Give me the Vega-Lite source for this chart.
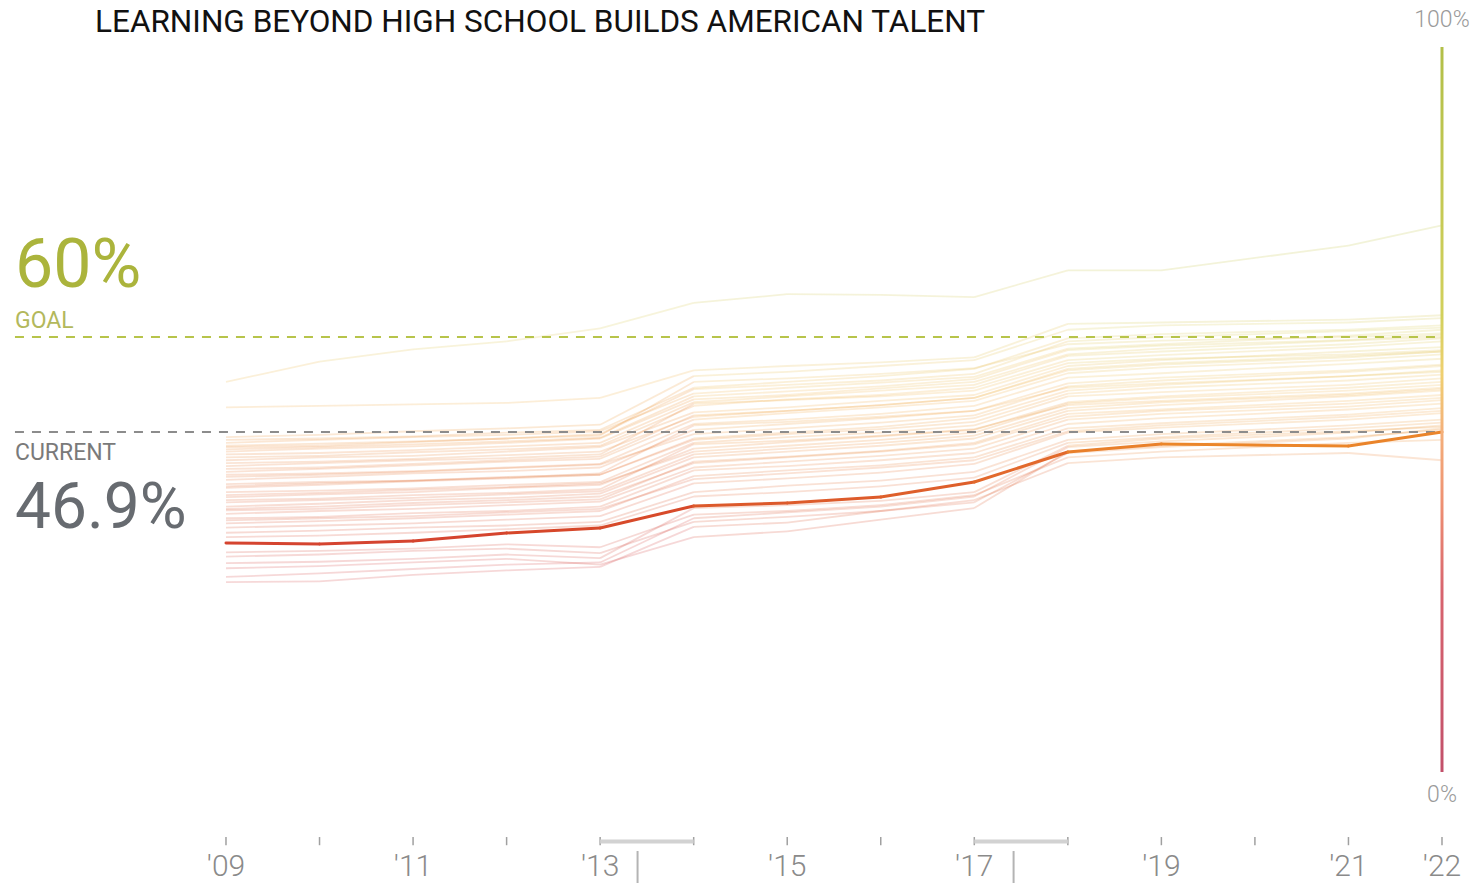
{
  "$schema": "https://vega.github.io/schema/vega-lite/v6.json",
  "width": 1481,
  "height": 883,
  "autosize": "none",
  "padding": 0,
  "background": "white",
  "config": {"view": {"stroke": null}},
  "datasets": {
    "states": [
      {"s":"L1","t":2009,"v":53.8},{"s":"L1","t":2010,"v":56.6},{"s":"L1","t":2011,"v":58.3},{"s":"L1","t":2012,"v":59.4},{"s":"L1","t":2013,"v":61.2},{"s":"L1","t":2014,"v":64.7},{"s":"L1","t":2015,"v":65.9},{"s":"L1","t":2016,"v":65.8},{"s":"L1","t":2017,"v":65.5},{"s":"L1","t":2018,"v":69.2},{"s":"L1","t":2019,"v":69.2},{"s":"L1","t":2021,"v":72.6},{"s":"L1","t":2022,"v":75.4},
      {"s":"L2","t":2009,"v":50.3},{"s":"L2","t":2010,"v":50.5},{"s":"L2","t":2011,"v":50.7},{"s":"L2","t":2012,"v":50.9},{"s":"L2","t":2013,"v":51.6},{"s":"L2","t":2014,"v":55.4},{"s":"L2","t":2015,"v":56.0},{"s":"L2","t":2016,"v":56.5},{"s":"L2","t":2017,"v":57.2},{"s":"L2","t":2018,"v":61.8},{"s":"L2","t":2019,"v":62.0},{"s":"L2","t":2021,"v":62.4},{"s":"L2","t":2022,"v":63.0},
      {"s":"L3","t":2009,"v":46.2},{"s":"L3","t":2010,"v":46.5},{"s":"L3","t":2011,"v":47.0},{"s":"L3","t":2012,"v":47.4},{"s":"L3","t":2013,"v":47.9},{"s":"L3","t":2014,"v":54.6},{"s":"L3","t":2015,"v":55.2},{"s":"L3","t":2016,"v":56.0},{"s":"L3","t":2017,"v":56.8},{"s":"L3","t":2018,"v":61.0},{"s":"L3","t":2019,"v":61.6},{"s":"L3","t":2021,"v":62.0},{"s":"L3","t":2022,"v":62.6},
      {"s":"L4","t":2009,"v":45.8},{"s":"L4","t":2010,"v":46.0},{"s":"L4","t":2011,"v":46.3},{"s":"L4","t":2012,"v":46.8},{"s":"L4","t":2013,"v":47.2},{"s":"L4","t":2014,"v":53.0},{"s":"L4","t":2015,"v":53.8},{"s":"L4","t":2016,"v":54.6},{"s":"L4","t":2017,"v":55.6},{"s":"L4","t":2018,"v":59.8},{"s":"L4","t":2019,"v":60.4},{"s":"L4","t":2021,"v":61.0},{"s":"L4","t":2022,"v":61.6},
      {"s":"L5","t":2009,"v":45.4},{"s":"L5","t":2010,"v":45.8},{"s":"L5","t":2011,"v":46.2},{"s":"L5","t":2012,"v":46.5},{"s":"L5","t":2013,"v":47.0},{"s":"L5","t":2014,"v":52.2},{"s":"L5","t":2015,"v":53.0},{"s":"L5","t":2016,"v":53.7},{"s":"L5","t":2017,"v":54.5},{"s":"L5","t":2018,"v":58.4},{"s":"L5","t":2019,"v":59.0},{"s":"L5","t":2021,"v":60.2},{"s":"L5","t":2022,"v":61.0},
      {"s":"L6","t":2009,"v":44.8},{"s":"L6","t":2010,"v":45.0},{"s":"L6","t":2011,"v":45.5},{"s":"L6","t":2012,"v":46.0},{"s":"L6","t":2013,"v":46.4},{"s":"L6","t":2014,"v":53.8},{"s":"L6","t":2015,"v":54.3},{"s":"L6","t":2016,"v":54.9},{"s":"L6","t":2017,"v":55.7},{"s":"L6","t":2018,"v":59.0},{"s":"L6","t":2019,"v":59.5},{"s":"L6","t":2021,"v":60.0},{"s":"L6","t":2022,"v":60.5},
      {"s":"L7","t":2009,"v":44.2},{"s":"L7","t":2010,"v":44.6},{"s":"L7","t":2011,"v":44.9},{"s":"L7","t":2012,"v":45.4},{"s":"L7","t":2013,"v":46.0},{"s":"L7","t":2014,"v":51.4},{"s":"L7","t":2015,"v":52.0},{"s":"L7","t":2016,"v":52.9},{"s":"L7","t":2017,"v":53.8},{"s":"L7","t":2018,"v":57.6},{"s":"L7","t":2019,"v":58.4},{"s":"L7","t":2021,"v":59.5},{"s":"L7","t":2022,"v":60.0},
      {"s":"L8","t":2009,"v":43.4},{"s":"L8","t":2010,"v":43.6},{"s":"L8","t":2011,"v":44.1},{"s":"L8","t":2012,"v":44.5},{"s":"L8","t":2013,"v":45.0},{"s":"L8","t":2014,"v":50.5},{"s":"L8","t":2015,"v":51.4},{"s":"L8","t":2016,"v":52.0},{"s":"L8","t":2017,"v":53.0},{"s":"L8","t":2018,"v":56.8},{"s":"L8","t":2019,"v":57.5},{"s":"L8","t":2021,"v":58.6},{"s":"L8","t":2022,"v":59.4},
      {"s":"L9","t":2009,"v":43.0},{"s":"L9","t":2010,"v":43.4},{"s":"L9","t":2011,"v":43.6},{"s":"L9","t":2012,"v":44.2},{"s":"L9","t":2013,"v":44.8},{"s":"L9","t":2014,"v":49.6},{"s":"L9","t":2015,"v":50.3},{"s":"L9","t":2016,"v":51.2},{"s":"L9","t":2017,"v":52.0},{"s":"L9","t":2018,"v":56.0},{"s":"L9","t":2019,"v":56.8},{"s":"L9","t":2021,"v":58.0},{"s":"L9","t":2022,"v":58.6},
      {"s":"L10","t":2009,"v":42.2},{"s":"L10","t":2010,"v":42.6},{"s":"L10","t":2011,"v":43.0},{"s":"L10","t":2012,"v":43.3},{"s":"L10","t":2013,"v":43.8},{"s":"L10","t":2014,"v":50.8},{"s":"L10","t":2015,"v":51.3},{"s":"L10","t":2016,"v":51.8},{"s":"L10","t":2017,"v":52.6},{"s":"L10","t":2018,"v":56.4},{"s":"L10","t":2019,"v":57.0},{"s":"L10","t":2021,"v":57.6},{"s":"L10","t":2022,"v":58.2},
      {"s":"L11","t":2009,"v":41.4},{"s":"L11","t":2010,"v":41.8},{"s":"L11","t":2011,"v":42.3},{"s":"L11","t":2012,"v":42.8},{"s":"L11","t":2013,"v":43.2},{"s":"L11","t":2014,"v":48.6},{"s":"L11","t":2015,"v":49.5},{"s":"L11","t":2016,"v":50.3},{"s":"L11","t":2017,"v":51.2},{"s":"L11","t":2018,"v":55.0},{"s":"L11","t":2019,"v":55.8},{"s":"L11","t":2021,"v":56.8},{"s":"L11","t":2022,"v":57.6},
      {"s":"L12","t":2009,"v":41.0},{"s":"L12","t":2010,"v":41.2},{"s":"L12","t":2011,"v":41.5},{"s":"L12","t":2012,"v":42.0},{"s":"L12","t":2013,"v":42.5},{"s":"L12","t":2014,"v":48.0},{"s":"L12","t":2015,"v":48.6},{"s":"L12","t":2016,"v":49.4},{"s":"L12","t":2017,"v":50.5},{"s":"L12","t":2018,"v":54.4},{"s":"L12","t":2019,"v":55.0},{"s":"L12","t":2021,"v":56.3},{"s":"L12","t":2022,"v":57.0},
      {"s":"L13","t":2009,"v":40.3},{"s":"L13","t":2010,"v":40.7},{"s":"L13","t":2011,"v":41.2},{"s":"L13","t":2012,"v":41.5},{"s":"L13","t":2013,"v":42.0},{"s":"L13","t":2014,"v":47.2},{"s":"L13","t":2015,"v":48.0},{"s":"L13","t":2016,"v":48.8},{"s":"L13","t":2017,"v":49.8},{"s":"L13","t":2018,"v":53.6},{"s":"L13","t":2019,"v":54.4},{"s":"L13","t":2021,"v":55.4},{"s":"L13","t":2022,"v":56.2},
      {"s":"L14","t":2009,"v":39.7},{"s":"L14","t":2010,"v":40.0},{"s":"L14","t":2011,"v":40.2},{"s":"L14","t":2012,"v":40.6},{"s":"L14","t":2013,"v":41.2},{"s":"L14","t":2014,"v":47.8},{"s":"L14","t":2015,"v":48.3},{"s":"L14","t":2016,"v":49.0},{"s":"L14","t":2017,"v":49.8},{"s":"L14","t":2018,"v":53.0},{"s":"L14","t":2019,"v":53.6},{"s":"L14","t":2021,"v":54.6},{"s":"L14","t":2022,"v":55.4},
      {"s":"L15","t":2009,"v":39.2},{"s":"L15","t":2010,"v":39.6},{"s":"L15","t":2011,"v":40.1},{"s":"L15","t":2012,"v":40.5},{"s":"L15","t":2013,"v":41.0},{"s":"L15","t":2014,"v":46.0},{"s":"L15","t":2015,"v":46.8},{"s":"L15","t":2016,"v":47.6},{"s":"L15","t":2017,"v":48.8},{"s":"L15","t":2018,"v":52.6},{"s":"L15","t":2019,"v":53.4},{"s":"L15","t":2021,"v":54.6},{"s":"L15","t":2022,"v":55.2},
      {"s":"L16","t":2009,"v":38.6},{"s":"L16","t":2010,"v":38.8},{"s":"L16","t":2011,"v":39.1},{"s":"L16","t":2012,"v":39.6},{"s":"L16","t":2013,"v":40.0},{"s":"L16","t":2014,"v":45.4},{"s":"L16","t":2015,"v":46.2},{"s":"L16","t":2016,"v":46.8},{"s":"L16","t":2017,"v":47.8},{"s":"L16","t":2018,"v":51.8},{"s":"L16","t":2019,"v":52.4},{"s":"L16","t":2021,"v":53.4},{"s":"L16","t":2022,"v":54.3},
      {"s":"L17","t":2009,"v":37.9},{"s":"L17","t":2010,"v":38.3},{"s":"L17","t":2011,"v":38.6},{"s":"L17","t":2012,"v":39.2},{"s":"L17","t":2013,"v":39.6},{"s":"L17","t":2014,"v":44.6},{"s":"L17","t":2015,"v":45.5},{"s":"L17","t":2016,"v":46.3},{"s":"L17","t":2017,"v":47.2},{"s":"L17","t":2018,"v":51.0},{"s":"L17","t":2019,"v":51.8},{"s":"L17","t":2021,"v":53.0},{"s":"L17","t":2022,"v":53.8},
      {"s":"L18","t":2009,"v":37.5},{"s":"L18","t":2010,"v":37.7},{"s":"L18","t":2011,"v":38.2},{"s":"L18","t":2012,"v":38.5},{"s":"L18","t":2013,"v":39.0},{"s":"L18","t":2014,"v":45.2},{"s":"L18","t":2015,"v":45.7},{"s":"L18","t":2016,"v":46.4},{"s":"L18","t":2017,"v":47.3},{"s":"L18","t":2018,"v":50.6},{"s":"L18","t":2019,"v":51.2},{"s":"L18","t":2021,"v":52.2},{"s":"L18","t":2022,"v":53.0},
      {"s":"L19","t":2009,"v":36.6},{"s":"L19","t":2010,"v":37.0},{"s":"L19","t":2011,"v":37.5},{"s":"L19","t":2012,"v":37.8},{"s":"L19","t":2013,"v":38.4},{"s":"L19","t":2014,"v":43.4},{"s":"L19","t":2015,"v":44.2},{"s":"L19","t":2016,"v":45.0},{"s":"L19","t":2017,"v":46.0},{"s":"L19","t":2018,"v":49.8},{"s":"L19","t":2019,"v":50.6},{"s":"L19","t":2021,"v":51.8},{"s":"L19","t":2022,"v":52.6},
      {"s":"L20","t":2009,"v":36.1},{"s":"L20","t":2010,"v":36.3},{"s":"L20","t":2011,"v":36.8},{"s":"L20","t":2012,"v":37.2},{"s":"L20","t":2013,"v":37.6},{"s":"L20","t":2014,"v":42.8},{"s":"L20","t":2015,"v":43.5},{"s":"L20","t":2016,"v":44.3},{"s":"L20","t":2017,"v":45.4},{"s":"L20","t":2018,"v":49.4},{"s":"L20","t":2019,"v":50.0},{"s":"L20","t":2021,"v":51.2},{"s":"L20","t":2022,"v":52.0},
      {"s":"L21","t":2009,"v":35.6},{"s":"L21","t":2010,"v":36.0},{"s":"L21","t":2011,"v":36.3},{"s":"L21","t":2012,"v":36.8},{"s":"L21","t":2013,"v":37.3},{"s":"L21","t":2014,"v":42.0},{"s":"L21","t":2015,"v":42.8},{"s":"L21","t":2016,"v":43.6},{"s":"L21","t":2017,"v":44.6},{"s":"L21","t":2018,"v":48.6},{"s":"L21","t":2019,"v":49.4},{"s":"L21","t":2021,"v":50.4},{"s":"L21","t":2022,"v":51.3},
      {"s":"L22","t":2009,"v":35.0},{"s":"L22","t":2010,"v":35.2},{"s":"L22","t":2011,"v":35.7},{"s":"L22","t":2012,"v":36.0},{"s":"L22","t":2013,"v":36.6},{"s":"L22","t":2014,"v":41.6},{"s":"L22","t":2015,"v":42.2},{"s":"L22","t":2016,"v":43.0},{"s":"L22","t":2017,"v":44.0},{"s":"L22","t":2018,"v":48.0},{"s":"L22","t":2019,"v":48.8},{"s":"L22","t":2021,"v":50.0},{"s":"L22","t":2022,"v":50.8},
      {"s":"L23","t":2009,"v":34.3},{"s":"L23","t":2010,"v":34.6},{"s":"L23","t":2011,"v":35.0},{"s":"L23","t":2012,"v":35.5},{"s":"L23","t":2013,"v":36.0},{"s":"L23","t":2014,"v":40.8},{"s":"L23","t":2015,"v":41.6},{"s":"L23","t":2016,"v":42.3},{"s":"L23","t":2017,"v":43.4},{"s":"L23","t":2018,"v":47.4},{"s":"L23","t":2019,"v":48.1},{"s":"L23","t":2021,"v":49.3},{"s":"L23","t":2022,"v":50.2},
      {"s":"L24","t":2009,"v":33.7},{"s":"L24","t":2010,"v":34.0},{"s":"L24","t":2011,"v":34.3},{"s":"L24","t":2012,"v":34.8},{"s":"L24","t":2013,"v":35.3},{"s":"L24","t":2014,"v":39.8},{"s":"L24","t":2015,"v":40.5},{"s":"L24","t":2016,"v":41.3},{"s":"L24","t":2017,"v":42.5},{"s":"L24","t":2018,"v":46.8},{"s":"L24","t":2019,"v":47.5},{"s":"L24","t":2021,"v":48.6},{"s":"L24","t":2022,"v":49.5},
      {"s":"L25","t":2009,"v":33.0},{"s":"L25","t":2010,"v":33.3},{"s":"L25","t":2011,"v":33.7},{"s":"L25","t":2012,"v":34.0},{"s":"L25","t":2013,"v":34.5},{"s":"L25","t":2014,"v":38.6},{"s":"L25","t":2015,"v":39.5},{"s":"L25","t":2016,"v":40.2},{"s":"L25","t":2017,"v":41.4},{"s":"L25","t":2018,"v":45.8},{"s":"L25","t":2019,"v":46.6},{"s":"L25","t":2021,"v":47.8},{"s":"L25","t":2022,"v":48.6},
      {"s":"L26","t":2009,"v":30.3},{"s":"L26","t":2010,"v":30.5},{"s":"L26","t":2011,"v":30.8},{"s":"L26","t":2012,"v":31.4},{"s":"L26","t":2013,"v":31.0},{"s":"L26","t":2014,"v":35.5},{"s":"L26","t":2015,"v":36.0},{"s":"L26","t":2016,"v":36.8},{"s":"L26","t":2017,"v":38.2},{"s":"L26","t":2018,"v":43.4},{"s":"L26","t":2019,"v":44.2},{"s":"L26","t":2021,"v":45.4},{"s":"L26","t":2022,"v":45.8},
      {"s":"L27","t":2009,"v":29.7},{"s":"L27","t":2010,"v":30.0},{"s":"L27","t":2011,"v":30.5},{"s":"L27","t":2012,"v":30.8},{"s":"L27","t":2013,"v":30.2},{"s":"L27","t":2014,"v":34.5},{"s":"L27","t":2015,"v":35.2},{"s":"L27","t":2016,"v":36.0},{"s":"L27","t":2017,"v":37.5},{"s":"L27","t":2018,"v":42.6},{"s":"L27","t":2019,"v":43.4},{"s":"L27","t":2021,"v":44.0},{"s":"L27","t":2022,"v":43.0},
      {"s":"L28","t":2009,"v":28.8},{"s":"L28","t":2010,"v":29.0},{"s":"L28","t":2011,"v":29.4},{"s":"L28","t":2012,"v":30.0},{"s":"L28","t":2013,"v":29.5},{"s":"L28","t":2014,"v":36.4},{"s":"L28","t":2015,"v":36.8},{"s":"L28","t":2016,"v":37.4},{"s":"L28","t":2017,"v":38.6},{"s":"L28","t":2018,"v":45.0},{"s":"L28","t":2019,"v":46.0},{"s":"L28","t":2021,"v":47.0},{"s":"L28","t":2022,"v":47.6},
      {"s":"L29","t":2009,"v":28.1},{"s":"L29","t":2010,"v":28.4},{"s":"L29","t":2011,"v":28.9},{"s":"L29","t":2012,"v":29.4},{"s":"L29","t":2013,"v":28.6},{"s":"L29","t":2014,"v":32.4},{"s":"L29","t":2015,"v":33.2},{"s":"L29","t":2016,"v":34.8},{"s":"L29","t":2017,"v":36.4},{"s":"L29","t":2018,"v":44.2},{"s":"L29","t":2019,"v":45.0},{"s":"L29","t":2021,"v":46.2},{"s":"L29","t":2022,"v":47.2},
      {"s":"L30","t":2009,"v":26.9},{"s":"L30","t":2010,"v":27.4},{"s":"L30","t":2011,"v":28.0},{"s":"L30","t":2012,"v":28.6},{"s":"L30","t":2013,"v":28.9},{"s":"L30","t":2014,"v":35.0},{"s":"L30","t":2015,"v":35.8},{"s":"L30","t":2016,"v":36.6},{"s":"L30","t":2017,"v":38.0},{"s":"L30","t":2018,"v":44.8},{"s":"L30","t":2019,"v":45.6},{"s":"L30","t":2021,"v":46.8},{"s":"L30","t":2022,"v":47.8},
      {"s":"L31","t":2009,"v":26.2},{"s":"L31","t":2010,"v":26.3},{"s":"L31","t":2011,"v":27.2},{"s":"L31","t":2012,"v":27.8},{"s":"L31","t":2013,"v":28.3},{"s":"L31","t":2014,"v":33.8},{"s":"L31","t":2015,"v":34.4},{"s":"L31","t":2016,"v":36.0},{"s":"L31","t":2017,"v":37.2},{"s":"L31","t":2018,"v":44.0},{"s":"L31","t":2019,"v":44.8},{"s":"L31","t":2021,"v":46.0},{"s":"L31","t":2022,"v":47.4},
      {"s":"L32","t":2009,"v":45.0},{"s":"L32","t":2010,"v":45.3},{"s":"L32","t":2011,"v":45.6},{"s":"L32","t":2012,"v":46.0},{"s":"L32","t":2013,"v":46.6},{"s":"L32","t":2014,"v":52.8},{"s":"L32","t":2015,"v":53.4},{"s":"L32","t":2016,"v":54.0},{"s":"L32","t":2017,"v":54.9},{"s":"L32","t":2018,"v":59.4},{"s":"L32","t":2019,"v":60.0},{"s":"L32","t":2021,"v":60.8},{"s":"L32","t":2022,"v":61.3},
      {"s":"L33","t":2009,"v":43.8},{"s":"L33","t":2010,"v":44.0},{"s":"L33","t":2011,"v":44.4},{"s":"L33","t":2012,"v":44.9},{"s":"L33","t":2013,"v":45.4},{"s":"L33","t":2014,"v":51.0},{"s":"L33","t":2015,"v":51.8},{"s":"L33","t":2016,"v":52.6},{"s":"L33","t":2017,"v":53.4},{"s":"L33","t":2018,"v":57.4},{"s":"L33","t":2019,"v":58.0},{"s":"L33","t":2021,"v":59.0},{"s":"L33","t":2022,"v":59.8},
      {"s":"L34","t":2009,"v":42.6},{"s":"L34","t":2010,"v":42.8},{"s":"L34","t":2011,"v":43.2},{"s":"L34","t":2012,"v":43.7},{"s":"L34","t":2013,"v":44.2},{"s":"L34","t":2014,"v":49.0},{"s":"L34","t":2015,"v":49.8},{"s":"L34","t":2016,"v":50.6},{"s":"L34","t":2017,"v":51.6},{"s":"L34","t":2018,"v":55.6},{"s":"L34","t":2019,"v":56.4},{"s":"L34","t":2021,"v":57.4},{"s":"L34","t":2022,"v":58.0},
      {"s":"L35","t":2009,"v":40.7},{"s":"L35","t":2010,"v":41.0},{"s":"L35","t":2011,"v":41.4},{"s":"L35","t":2012,"v":41.9},{"s":"L35","t":2013,"v":42.4},{"s":"L35","t":2014,"v":46.6},{"s":"L35","t":2015,"v":47.4},{"s":"L35","t":2016,"v":48.2},{"s":"L35","t":2017,"v":49.2},{"s":"L35","t":2018,"v":53.2},{"s":"L35","t":2019,"v":54.0},{"s":"L35","t":2021,"v":55.2},{"s":"L35","t":2022,"v":56.0},
      {"s":"L36","t":2009,"v":39.4},{"s":"L36","t":2010,"v":39.8},{"s":"L36","t":2011,"v":40.2},{"s":"L36","t":2012,"v":40.7},{"s":"L36","t":2013,"v":41.0},{"s":"L36","t":2014,"v":45.8},{"s":"L36","t":2015,"v":46.6},{"s":"L36","t":2016,"v":47.3},{"s":"L36","t":2017,"v":48.3},{"s":"L36","t":2018,"v":52.2},{"s":"L36","t":2019,"v":53.0},{"s":"L36","t":2021,"v":54.0},{"s":"L36","t":2022,"v":54.8},
      {"s":"L37","t":2009,"v":38.2},{"s":"L37","t":2010,"v":38.5},{"s":"L37","t":2011,"v":38.9},{"s":"L37","t":2012,"v":39.3},{"s":"L37","t":2013,"v":39.8},{"s":"L37","t":2014,"v":44.2},{"s":"L37","t":2015,"v":45.0},{"s":"L37","t":2016,"v":45.8},{"s":"L37","t":2017,"v":46.8},{"s":"L37","t":2018,"v":50.8},{"s":"L37","t":2019,"v":51.6},{"s":"L37","t":2021,"v":52.6},{"s":"L37","t":2022,"v":53.4},
      {"s":"L38","t":2009,"v":37.2},{"s":"L38","t":2010,"v":37.5},{"s":"L38","t":2011,"v":37.8},{"s":"L38","t":2012,"v":38.3},{"s":"L38","t":2013,"v":38.7},{"s":"L38","t":2014,"v":43.8},{"s":"L38","t":2015,"v":44.6},{"s":"L38","t":2016,"v":45.4},{"s":"L38","t":2017,"v":46.4},{"s":"L38","t":2018,"v":50.2},{"s":"L38","t":2019,"v":51.0},{"s":"L38","t":2021,"v":52.0},{"s":"L38","t":2022,"v":52.8},
      {"s":"L39","t":2009,"v":36.3},{"s":"L39","t":2010,"v":36.6},{"s":"L39","t":2011,"v":37.1},{"s":"L39","t":2012,"v":37.5},{"s":"L39","t":2013,"v":38.0},{"s":"L39","t":2014,"v":42.6},{"s":"L39","t":2015,"v":43.4},{"s":"L39","t":2016,"v":44.2},{"s":"L39","t":2017,"v":45.2},{"s":"L39","t":2018,"v":49.0},{"s":"L39","t":2019,"v":49.8},{"s":"L39","t":2021,"v":50.8},{"s":"L39","t":2022,"v":51.6},
      {"s":"L40","t":2009,"v":34.7},{"s":"L40","t":2010,"v":35.0},{"s":"L40","t":2011,"v":35.3},{"s":"L40","t":2012,"v":35.8},{"s":"L40","t":2013,"v":36.3},{"s":"L40","t":2014,"v":40.4},{"s":"L40","t":2015,"v":41.2},{"s":"L40","t":2016,"v":42.0},{"s":"L40","t":2017,"v":43.0},{"s":"L40","t":2018,"v":47.0},{"s":"L40","t":2019,"v":47.8},{"s":"L40","t":2021,"v":49.0},{"s":"L40","t":2022,"v":49.8},
      {"s":"L41","t":2009,"v":32.4},{"s":"L41","t":2010,"v":32.6},{"s":"L41","t":2011,"v":33.0},{"s":"L41","t":2012,"v":33.5},{"s":"L41","t":2013,"v":34.0},{"s":"L41","t":2014,"v":38.0},{"s":"L41","t":2015,"v":38.6},{"s":"L41","t":2016,"v":39.4},{"s":"L41","t":2017,"v":40.6},{"s":"L41","t":2018,"v":45.4},{"s":"L41","t":2019,"v":46.2},{"s":"L41","t":2021,"v":47.4},{"s":"L41","t":2022,"v":48.2},
      {"s":"L42","t":2009,"v":44.5},{"s":"L42","t":2010,"v":44.8},{"s":"L42","t":2011,"v":45.2},{"s":"L42","t":2012,"v":45.6},{"s":"L42","t":2013,"v":46.1},{"s":"L42","t":2014,"v":51.8},{"s":"L42","t":2015,"v":52.5},{"s":"L42","t":2016,"v":53.2},{"s":"L42","t":2017,"v":54.2},{"s":"L42","t":2018,"v":58.2},{"s":"L42","t":2019,"v":58.8},{"s":"L42","t":2021,"v":59.6},{"s":"L42","t":2022,"v":60.3},
      {"s":"L43","t":2009,"v":41.8},{"s":"L43","t":2010,"v":42.0},{"s":"L43","t":2011,"v":42.5},{"s":"L43","t":2012,"v":43.0},{"s":"L43","t":2013,"v":43.5},{"s":"L43","t":2014,"v":49.2},{"s":"L43","t":2015,"v":49.8},{"s":"L43","t":2016,"v":50.6},{"s":"L43","t":2017,"v":51.6},{"s":"L43","t":2018,"v":55.4},{"s":"L43","t":2019,"v":56.2},{"s":"L43","t":2021,"v":57.2},{"s":"L43","t":2022,"v":58.0},
      {"s":"M","t":2009,"v":31.6},{"s":"M","t":2010,"v":31.45},{"s":"M","t":2011,"v":31.86},{"s":"M","t":2012,"v":32.97},{"s":"M","t":2013,"v":33.66},{"s":"M","t":2014,"v":36.69},{"s":"M","t":2015,"v":37.1},{"s":"M","t":2016,"v":37.93},{"s":"M","t":2017,"v":40.0},{"s":"M","t":2018,"v":44.14},{"s":"M","t":2019,"v":45.24},{"s":"M","t":2021,"v":44.97},{"s":"M","t":2022,"v":46.9}
    ],
    "ticks": [{"t":2009},{"t":2010},{"t":2011},{"t":2012},{"t":2013},{"t":2014},{"t":2015},{"t":2016},{"t":2017},{"t":2018},{"t":2019},{"t":2020},{"t":2021},{"t":2022}],
    "labels": [{"t":2009,"lab":"'09"},{"t":2011,"lab":"'11"},{"t":2013,"lab":"'13"},{"t":2015,"lab":"'15"},{"t":2017,"lab":"'17"},{"t":2019,"lab":"'19"},{"t":2021,"lab":"'21"},{"t":2022,"lab":"'22"}],
    "brackets": [{"t":2013,"t2":2014},{"t":2017,"t2":2018}],
    "one": [{}]
  },
  "layer": [
    {
      "data": {"name": "states"},
      "transform": [
        {"filter": "datum.s != 'M'"},
        {"window": [{"op": "lead", "field": "t", "as": "t2"}, {"op": "lead", "field": "v", "as": "v2"}], "groupby": ["s"], "sort": [{"field": "t", "order": "ascending"}]},
        {"filter": "isValid(datum.t2)"}
      ],
      "mark": {"type": "rule", "strokeWidth": 1.8, "opacity": 0.2, "strokeCap": "butt"},
      "encoding": {
        "x": {"field": "t", "type": "quantitative", "scale": {"domain": [2006.584, 2022.417], "nice": false, "zero": false}, "axis": null},
        "x2": {"field": "t2"},
        "y": {"field": "v", "type": "quantitative", "scale": {"domain": [-15.31, 106.48], "nice": false, "zero": false}, "axis": null},
        "y2": {"field": "v2"},
        "color": {"field": "v", "type": "quantitative", "legend": null, "scale": {"domain": [0, 28, 33, 40, 46, 52, 60, 75], "range": ["#c44a62", "#d23c3c", "#d6472a", "#e2692c", "#ec8a2a", "#f0b040", "#d8c64a", "#b8c23e"], "interpolate": "rgb"}}
      }
    },
    {
      "data": {"name": "one"},
      "mark": {"type": "rule", "strokeDash": [9, 8], "strokeWidth": 2, "color": "#b7c44a"},
      "encoding": {
        "x": {"datum": 2006.744, "type": "quantitative", "scale": {"domain": [2006.584, 2022.417], "nice": false, "zero": false}, "axis": null},
        "x2": {"datum": 2022},
        "y": {"datum": 60, "type": "quantitative", "scale": {"domain": [-15.31, 106.48], "nice": false, "zero": false}, "axis": null}
      }
    },
    {
      "data": {"name": "one"},
      "mark": {"type": "rule", "strokeDash": [9, 8], "strokeWidth": 2, "color": "#8c8c8c"},
      "encoding": {
        "x": {"datum": 2006.744, "type": "quantitative", "scale": {"domain": [2006.584, 2022.417], "nice": false, "zero": false}, "axis": null},
        "x2": {"datum": 2022},
        "y": {"datum": 46.9, "type": "quantitative", "scale": {"domain": [-15.31, 106.48], "nice": false, "zero": false}, "axis": null}
      }
    },
    {
      "data": {"name": "states"},
      "transform": [
        {"filter": "datum.s == 'M'"},
        {"window": [{"op": "lead", "field": "t", "as": "t2"}, {"op": "lead", "field": "v", "as": "v2"}], "groupby": ["s"], "sort": [{"field": "t", "order": "ascending"}]},
        {"filter": "isValid(datum.t2)"}
      ],
      "mark": {"type": "rule", "strokeWidth": 3, "strokeCap": "round"},
      "encoding": {
        "x": {"field": "t", "type": "quantitative", "scale": {"domain": [2006.584, 2022.417], "nice": false, "zero": false}, "axis": null},
        "x2": {"field": "t2"},
        "y": {"field": "v", "type": "quantitative", "scale": {"domain": [-15.31, 106.48], "nice": false, "zero": false}, "axis": null},
        "y2": {"field": "v2"},
        "color": {"field": "v", "type": "quantitative", "legend": null, "scale": {"domain": [0, 28, 33, 40, 46, 52, 60, 75], "range": ["#c44a62", "#d23c3c", "#d6472a", "#e2692c", "#ec8a2a", "#f0b040", "#d8c64a", "#b8c23e"], "interpolate": "rgb"}}
      }
    },
    {
      "data": {"name": "one"},
      "mark": {"type": "rect", "fill": {"gradient": "linear", "x1": 0, "y1": 1, "x2": 0, "y2": 0, "stops": [{"offset": 0, "color": "#c2506a"}, {"offset": 0.25, "color": "#d8646e"}, {"offset": 0.37, "color": "#ee9072"}, {"offset": 0.47, "color": "#f4b07a"}, {"offset": 0.55, "color": "#efd070"}, {"offset": 0.63, "color": "#d2d05c"}, {"offset": 1, "color": "#b2bf48"}]}},
      "encoding": {
        "x": {"datum": 2021.984, "type": "quantitative", "scale": {"domain": [2006.584, 2022.417], "nice": false, "zero": false}, "axis": null},
        "x2": {"datum": 2022.016},
        "y": {"datum": 0, "type": "quantitative", "scale": {"domain": [-15.31, 106.48], "nice": false, "zero": false}, "axis": null},
        "y2": {"datum": 100}
      }
    },
    {
      "data": {"name": "ticks"},
      "mark": {"type": "rule", "strokeWidth": 1.5, "color": "#a0a0a0"},
      "encoding": {
        "x": {"field": "t", "type": "quantitative", "scale": {"domain": [2006.584, 2022.417], "nice": false, "zero": false}, "axis": null},
        "y": {"datum": -8.97, "type": "quantitative", "scale": {"domain": [-15.31, 106.48], "nice": false, "zero": false}, "axis": null},
        "y2": {"datum": -10.1}
      }
    },
    {
      "data": {"name": "brackets"},
      "mark": {"type": "rule", "strokeWidth": 4, "color": "#d2d2d2", "strokeCap": "butt"},
      "encoding": {
        "x": {"field": "t", "type": "quantitative", "scale": {"domain": [2006.584, 2022.417], "nice": false, "zero": false}, "axis": null},
        "x2": {"field": "t2"},
        "y": {"datum": -9.6, "type": "quantitative", "scale": {"domain": [-15.31, 106.48], "nice": false, "zero": false}, "axis": null}
      }
    },
    {
      "data": {"name": "one"},
      "mark": {"type": "rule", "strokeWidth": 2, "color": "#b4b4b4"},
      "encoding": {
        "x": {"datum": 2013.4, "type": "quantitative", "scale": {"domain": [2006.584, 2022.417], "nice": false, "zero": false}, "axis": null},
        "y": {"datum": -10.9, "type": "quantitative", "scale": {"domain": [-15.31, 106.48], "nice": false, "zero": false}, "axis": null},
        "y2": {"datum": -15.31}
      }
    },
    {
      "data": {"name": "one"},
      "mark": {"type": "rule", "strokeWidth": 2, "color": "#b4b4b4"},
      "encoding": {
        "x": {"datum": 2017.42, "type": "quantitative", "scale": {"domain": [2006.584, 2022.417], "nice": false, "zero": false}, "axis": null},
        "y": {"datum": -10.9, "type": "quantitative", "scale": {"domain": [-15.31, 106.48], "nice": false, "zero": false}, "axis": null},
        "y2": {"datum": -15.31}
      }
    },
    {
      "data": {"name": "labels"},
      "mark": {"type": "text", "font": "Roboto", "fontWeight": 300, "fontSize": 30, "color": "#8a8a8a", "align": "center", "baseline": "alphabetic"},
      "encoding": {
        "x": {"field": "t", "type": "quantitative", "scale": {"domain": [2006.584, 2022.417], "nice": false, "zero": false}, "axis": null},
        "y": {"datum": -14.3, "type": "quantitative", "scale": {"domain": [-15.31, 106.48], "nice": false, "zero": false}, "axis": null},
        "text": {"field": "lab"}
      }
    },
    {
      "data": {"name": "one"},
      "mark": {"type": "text", "text": "60%", "font": "Roboto", "fontSize": 68, "color": "#abb43c", "align": "left", "baseline": "alphabetic"},
      "encoding": {
        "x": {"datum": 2006.744, "type": "quantitative", "scale": {"domain": [2006.584, 2022.417], "nice": false, "zero": false}, "axis": null},
        "y": {"datum": 66.9, "type": "quantitative", "scale": {"domain": [-15.31, 106.48], "nice": false, "zero": false}, "axis": null}
      }
    },
    {
      "data": {"name": "one"},
      "mark": {"type": "text", "text": "GOAL", "font": "Roboto", "fontSize": 23, "color": "#b3b85c", "align": "left", "baseline": "alphabetic"},
      "encoding": {
        "x": {"datum": 2006.744, "type": "quantitative", "scale": {"domain": [2006.584, 2022.417], "nice": false, "zero": false}, "axis": null},
        "y": {"datum": 61.24, "type": "quantitative", "scale": {"domain": [-15.31, 106.48], "nice": false, "zero": false}, "axis": null}
      }
    },
    {
      "data": {"name": "one"},
      "mark": {"type": "text", "text": "CURRENT", "font": "Roboto", "fontSize": 23, "color": "#7a7a7a", "align": "left", "baseline": "alphabetic"},
      "encoding": {
        "x": {"datum": 2006.744, "type": "quantitative", "scale": {"domain": [2006.584, 2022.417], "nice": false, "zero": false}, "axis": null},
        "y": {"datum": 43.1, "type": "quantitative", "scale": {"domain": [-15.31, 106.48], "nice": false, "zero": false}, "axis": null}
      }
    },
    {
      "data": {"name": "one"},
      "mark": {"type": "text", "text": "46.9%", "font": "Roboto", "fontSize": 64, "color": "#676b70", "align": "left", "baseline": "alphabetic"},
      "encoding": {
        "x": {"datum": 2006.744, "type": "quantitative", "scale": {"domain": [2006.584, 2022.417], "nice": false, "zero": false}, "axis": null},
        "y": {"datum": 33.65, "type": "quantitative", "scale": {"domain": [-15.31, 106.48], "nice": false, "zero": false}, "axis": null}
      }
    },
    {
      "data": {"name": "one"},
      "mark": {"type": "text", "text": "100%", "font": "Roboto", "fontWeight": 300, "fontSize": 23, "color": "#9a9a9a", "align": "center", "baseline": "alphabetic"},
      "encoding": {
        "x": {"datum": 2022, "type": "quantitative", "scale": {"domain": [2006.584, 2022.417], "nice": false, "zero": false}, "axis": null},
        "y": {"datum": 102.76, "type": "quantitative", "scale": {"domain": [-15.31, 106.48], "nice": false, "zero": false}, "axis": null}
      }
    },
    {
      "data": {"name": "one"},
      "mark": {"type": "text", "text": "0%", "font": "Roboto", "fontWeight": 300, "fontSize": 23, "color": "#9a9a9a", "align": "center", "baseline": "alphabetic"},
      "encoding": {
        "x": {"datum": 2022, "type": "quantitative", "scale": {"domain": [2006.584, 2022.417], "nice": false, "zero": false}, "axis": null},
        "y": {"datum": -4.14, "type": "quantitative", "scale": {"domain": [-15.31, 106.48], "nice": false, "zero": false}, "axis": null}
      }
    },
    {
      "data": {"name": "one"},
      "mark": {"type": "text", "text": "LEARNING BEYOND HIGH SCHOOL BUILDS AMERICAN TALENT", "font": "Roboto", "fontWeight": 400, "fontSize": 31.5, "color": "#111111", "align": "left", "baseline": "alphabetic"},
      "encoding": {
        "x": {"datum": 2007.6, "type": "quantitative", "scale": {"domain": [2006.584, 2022.417], "nice": false, "zero": false}, "axis": null},
        "y": {"datum": 102.07, "type": "quantitative", "scale": {"domain": [-15.31, 106.48], "nice": false, "zero": false}, "axis": null}
      }
    }
  ]
}
